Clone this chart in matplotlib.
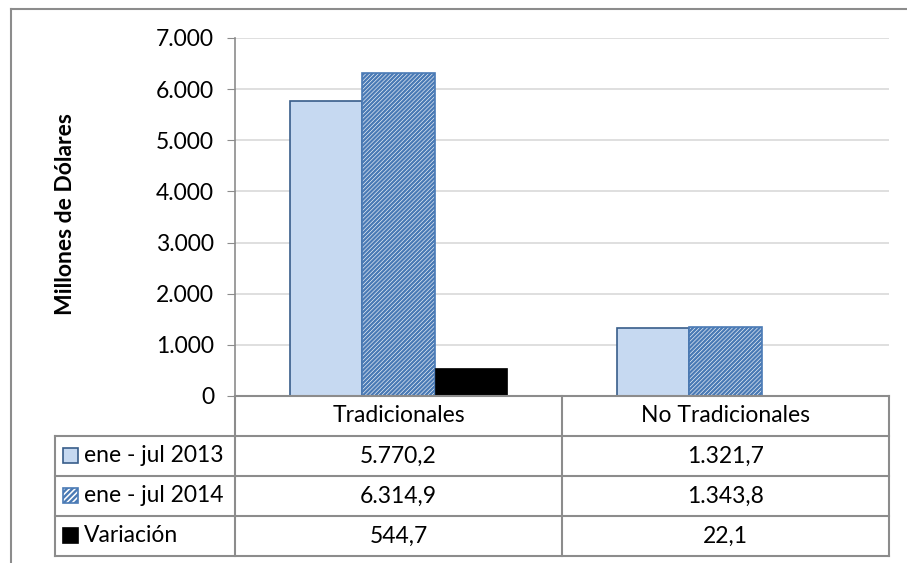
import numpy as np
import matplotlib.pyplot as plt
from matplotlib.patches import Rectangle
from matplotlib.lines import Line2D
from matplotlib.ticker import FuncFormatter

categories = ["Tradicionales", "No Tradicionales"]
series_names = ["ene - jul 2013", "ene - jul 2014", "Variación"]
vals_2013 = [5770.2, 1321.7]
vals_2014 = [6314.9, 1343.8]
variacion = [544.7, 22.1]
table_text = [["5.770,2", "1.321,7"],
              ["6.314,9", "1.343,8"],
              ["544,7", "22,1"]]
yticks = [0, 1000, 2000, 3000, 4000, 5000, 6000, 7000]

plt.rcParams['font.family'] = ['Lato', 'DejaVu Sans']
plt.rcParams['hatch.linewidth'] = 1.7

W, H = 907, 563
fig = plt.figure(figsize=(W / 100, H / 100), dpi=100)

def fx(px):
    return px / W

def fy(py):
    return 1 - py / H

grey = '#8c8c8c'
fs = 16.5

# outer frame
fig.add_artist(Line2D([fx(11), fx(907)], [fy(9), fy(9)], color=grey, lw=1.5))
fig.add_artist(Line2D([fx(11), fx(11)], [fy(9), fy(563)], color=grey, lw=1.5))

ax = fig.add_axes([fx(235), fy(396), fx(889) - fx(235), fy(38) - fy(396)])
x = np.arange(len(categories))
bw = 0.2222
ax.bar(x - bw, vals_2013, bw, color='#c6d9f1', edgecolor='#385d8a', lw=1.2, zorder=3)
ax.bar(x, vals_2014, bw, color='white', edgecolor='#4a7ab5', hatch='////////', lw=1.2, zorder=3)
ax.bar(x + bw, variacion, bw, color='black', edgecolor='black', lw=0.5, zorder=3)

ax.set_xlim(-0.5, 1.5)
ax.set_ylim(0, 7000)
ax.set_yticks(yticks)
ax.yaxis.set_major_formatter(FuncFormatter(lambda v, p: f"{int(v):,}".replace(",", ".")))
ax.set_xticks([])
ax.tick_params(axis='y', length=6, color=grey, labelsize=fs, pad=9)
ax.grid(axis='y', color='#d9d9d9', lw=1.2, zorder=0)
for s in ['top', 'right', 'bottom']:
    ax.spines[s].set_visible(False)
ax.spines['left'].set_color(grey)
ax.spines['left'].set_linewidth(1.2)

fig.text(fx(65), fy(214), "Millones de Dólares", rotation=90, ha='center', va='center',
         fontsize=fs, fontweight='bold')

# data table
tl = dict(color=grey, lw=1.5)
cols = [55, 235, 562, 889]
rows = [396, 436, 476, 516, 556]
fig.add_artist(Line2D([fx(235), fx(889)], [fy(396), fy(396)], **tl))
for r in rows[1:]:
    fig.add_artist(Line2D([fx(55), fx(889)], [fy(r), fy(r)], **tl))
fig.add_artist(Line2D([fx(55), fx(55)], [fy(436), fy(556)], **tl))
for c in cols[1:]:
    fig.add_artist(Line2D([fx(c), fx(c)], [fy(396), fy(556)], **tl))

for j, cat in enumerate(categories):
    fig.text(fx((cols[j + 1] + cols[j + 2]) / 2), fy(416), cat, ha='center', va='center', fontsize=fs)

key_styles = [dict(facecolor='#c6d9f1', edgecolor='#385d8a'),
              dict(facecolor='white', edgecolor='#4a7ab5', hatch='//////'),
              dict(facecolor='black', edgecolor='black')]
for i, name in enumerate(series_names):
    yc = (rows[i + 1] + rows[i + 2]) / 2
    fig.add_artist(Rectangle((fx(63), fy(yc + 7)), fx(15), fy(yc - 8) - fy(yc + 7),
                             lw=1.2, **key_styles[i]))
    fig.text(fx(84), fy(yc), name, ha='left', va='center', fontsize=fs)
    for j in range(len(categories)):
        fig.text(fx((cols[j + 1] + cols[j + 2]) / 2), fy(yc), table_text[i][j],
                 ha='center', va='center', fontsize=fs)

fig.savefig("out.png", dpi=100)
